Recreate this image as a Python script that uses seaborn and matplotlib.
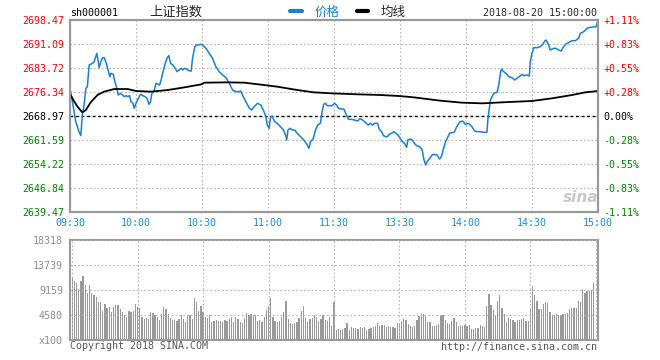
import numpy as np
import pandas as pd
import seaborn as sns
import matplotlib.pyplot as plt

prev_close = 2668.97
price_levels = [2639.47, 2646.84, 2654.22, 2661.59, 2668.97, 2676.34, 2683.72, 2691.09, 2698.47]
pct_labels = ["-1.11%", "-0.83%", "-0.55%", "-0.28%", "0.00%", "+0.28%", "+0.55%", "+0.83%", "+1.11%"]
time_ticks = [0, 30, 60, 90, 120, 150, 180, 210, 240]
time_labels = ["09:30", "10:00", "10:30", "11:00", "11:30", "13:30", "14:00", "14:30", "15:00"]
vol_levels = [0, 4580, 9159, 13739, 18318]
vol_labels = ["x100", "4580", "9159", "13739", "18318"]

# price trace, minutes after 09:30 (lunch break removed)
price_min_am = [0, 1.1, 2.6, 4.1, 4.9, 5.6, 6.4, 7.2, 7.9, 8.7, 10.2, 11.0, 12.2, 13.3, 14.0,
                14.8, 15.5, 16.3, 17.1, 18.1, 18.6, 19.7, 20.4, 21.3, 21.9, 22.9, 23.9, 24.7,
                25.6, 26.2, 27.1, 27.7, 28.6, 29.2, 30.0, 31.1, 32.0, 33.1, 34.1, 35.0, 35.9,
                36.6, 37.2, 38.1, 39.1, 40.7, 41.4, 42.3, 43.3, 44.2, 44.9, 45.7, 46.8, 47.5,
                48.7, 49.5, 50.6, 51.3, 52.1, 53.0, 53.9, 55.1, 55.7, 56.7, 57.4, 58.2, 59.7,
                60.3, 61.8, 63.3, 64.8, 66.3, 67.8, 69.4, 70.9, 72.4, 73.9, 75.4, 76.9, 77.6,
                78.4, 79.9, 81.4, 82.5, 83.7, 85.2, 86.7, 87.9, 89.0, 89.7, 90.5, 91.2, 92.0,
                93.0, 94.2, 95.7, 97.0, 98.0, 98.5, 99.1, 100.0, 101.0, 102.1, 103.3, 104.8,
                106.3, 107.8, 108.6, 109.3, 110.5, 111.6, 112.6, 113.8, 114.6, 115.3, 116.1,
                116.9, 119.1]
price_am = [2677.47, 2673.37, 2667.23, 2664.16, 2662.93, 2669.28, 2672.35, 2677.47, 2677.98,
            2684.64, 2685.15, 2685.66, 2688.22, 2683.82, 2685.66, 2686.89, 2686.89, 2685.66,
            2683.61, 2681.05, 2682.08, 2681.77, 2679.52, 2677.47, 2675.42, 2675.93, 2675.42,
            2674.91, 2675.22, 2674.91, 2675.22, 2673.37, 2672.86, 2671.33, 2672.86, 2674.40,
            2675.63, 2675.22, 2674.91, 2674.40, 2672.55, 2673.37, 2675.93, 2676.45, 2679.01,
            2678.49, 2680.03, 2682.59, 2685.15, 2686.89, 2687.50, 2685.15, 2684.64, 2683.92,
            2682.59, 2683.10, 2683.61, 2683.10, 2683.61, 2683.41, 2682.90, 2682.79, 2686.69,
            2690.27, 2690.78, 2690.78, 2690.99,
            2690.78, 2689.76, 2688.22, 2686.69, 2684.13, 2682.59, 2681.57, 2680.75, 2679.01,
            2676.96, 2676.45, 2676.45, 2676.65, 2675.42, 2673.37, 2671.53, 2670.81, 2671.84,
            2672.86, 2672.35, 2670.81, 2668.77, 2666.20, 2665.18, 2668.77, 2668.77, 2667.23,
            2666.72, 2665.69, 2664.67, 2663.13, 2661.60, 2664.67, 2665.18, 2664.67, 2664.67,
            2663.65, 2662.62, 2661.60, 2660.06, 2659.04, 2661.08, 2661.90, 2664.67, 2666.20,
            2666.72, 2670.30, 2672.55, 2672.86, 2672.14, 2672.14]
price_min_pm = [120.3, 121.1, 122.1, 123.3, 124.5, 125.6, 126.6, 127.8, 129.3, 130.8, 131.6,
                132.3, 133.5, 134.6, 135.6, 136.5, 137.6, 138.3, 139.8, 140.6, 141.6, 142.5,
                143.6, 144.3, 145.1, 146.1, 147.3, 148.1, 149.1, 150.0, 151.1, 152.1, 153.0,
                153.6, 154.5, 155.6, 156.6, 157.5, 159.0, 160.1, 160.8, 161.7, 162.3, 163.5,
                164.6, 165.6, 166.8, 168.0, 168.8, 169.8, 170.7, 171.6, 172.5, 173.6, 174.6,
                175.8, 177.0, 178.1,
                178.8, 179.7, 181.2, 182.7, 183.9, 185.0, 186.5, 188.0, 189.5, 190.0, 191.1,
                191.8, 192.6, 194.1, 194.9, 195.6, 196.1, 197.1, 198.2, 199.4, 200.9, 202.1,
                203.2, 204.2, 205.5, 206.2, 207.7, 208.8, 209.2, 210.0, 210.8, 212.3, 213.8,
                214.9, 215.8, 216.4, 217.6, 218.3, 219.8, 220.9, 222.1, 223.2, 224.4, 225.2,
                226.7, 228.2, 229.7, 231.2, 232.0, 233.5, 235.0, 236.5, 239.1, 240.0]
price_pm = [2672.86, 2672.35, 2671.33, 2671.12, 2671.12, 2669.28, 2667.95, 2667.95, 2667.74,
            2667.43, 2668.05, 2668.05, 2667.43, 2666.72, 2666.20, 2666.72, 2666.20, 2666.72,
            2666.72, 2664.87, 2664.16, 2662.93, 2662.62, 2662.62, 2663.34, 2663.65, 2664.16,
            2663.65, 2663.13, 2662.11, 2661.08, 2660.57, 2659.34, 2661.60, 2661.90, 2661.60,
            2660.57, 2659.86, 2659.55, 2658.53, 2655.76, 2653.92, 2654.94, 2655.97, 2656.99,
            2657.19, 2656.99, 2655.76, 2656.48, 2659.04, 2661.08, 2662.31, 2663.65, 2663.85,
            2663.95, 2665.69, 2667.02, 2667.43,
            2667.23, 2666.41, 2666.72, 2665.69, 2664.36, 2664.16, 2664.16, 2663.95, 2663.95,
            2668.25, 2673.89, 2674.91, 2675.93, 2676.24, 2678.49, 2682.08, 2683.41, 2682.59,
            2682.08, 2681.05, 2680.75, 2680.03, 2680.54, 2681.05, 2681.77, 2681.36, 2681.57,
            2681.26, 2685.66, 2688.22, 2689.96, 2689.96, 2690.27, 2690.99, 2692.01, 2692.32,
            2690.78, 2689.25, 2689.76, 2689.76, 2689.25, 2688.94, 2690.27, 2690.99, 2691.60,
            2692.11, 2692.11, 2692.83, 2694.37, 2694.88, 2695.90, 2696.21, 2696.41, 2698.40]

avg_min = [0, 1.8, 3.4, 5.6, 7.2, 9.4, 12.5, 15.5, 20.1, 26.2, 30.0, 36.9, 44.5, 52.1, 59.7,
           61.1, 71.6, 79.2, 88.2, 94.2, 103.3, 110.8, 119.1, 130.8, 141.3, 149.6, 156.3,
           162.3, 168.3, 178.1, 187.3, 196.4, 210.0, 219.1, 228.2, 234.2, 240]
avg_val = [2675.73, 2673.58, 2671.84, 2670.10, 2670.81, 2673.17, 2675.42, 2676.45, 2677.26,
           2677.26, 2676.65, 2676.45, 2676.96, 2677.78, 2678.70, 2679.21, 2679.31, 2679.21,
           2678.49, 2677.98, 2676.96, 2676.24, 2675.93, 2675.63, 2675.42, 2675.11, 2674.70,
           2674.19, 2673.68, 2673.07, 2672.86, 2673.17, 2673.58, 2674.40, 2675.42, 2676.24,
           2676.65]

# volume per minute (x100)
vol_am = [11600, 10810, 10500, 9340, 10810, 11720, 10080, 8550, 10080,
          8670, 8240, 7940, 7020, 6900, 5370, 6590, 5800, 6110, 5190, 6110, 6410, 6410, 5680,
          5070, 4580, 4270,
          5310, 5070, 5310, 6590, 6110, 5800, 4270, 3850, 3970, 3850, 5070, 4880, 4580, 4270,
          3660, 4700, 6110, 5680,
          4700, 3970, 3660, 3660, 3480, 3790, 4580, 3790, 3360, 4580, 4580, 3850, 7750, 7020,
          5310, 6290, 5070, 4270, 4090, 4580,
          3360, 3540, 3660, 3540,
          3540, 3360, 3660, 3480, 3850, 4270, 3360,
          4270, 3850, 3240, 3050, 4090, 4880, 4580, 4700, 4580,
          4580, 3480, 3660, 3360, 4270, 5500, 6290, 7750, 4270, 3480,
          3360, 3480, 4270, 5190, 7140, 3850, 3050, 2930,
          3050, 3240, 3970, 5310, 6290, 4090, 3240, 3850, 4090, 4580, 4270,
          3480, 3850, 4580, 3660, 3480, 4270, 2630]
vol_pm = [7020, 1830, 1950, 1830, 2010, 2140, 3050, 1830, 2320, 2200,
          2140, 2010, 2320, 2200, 2320, 1770, 2080,
          2200, 2380, 2630, 3050, 2630, 2690, 2690, 2380, 2560, 2320,
          2440, 2260, 3050, 3180, 3480, 3850, 3660, 2870, 2500, 2320,
          2630, 3600, 4460, 4880, 4760, 4580, 3240, 3240, 2630, 2630,
          2690, 2870, 4520, 4520, 3720, 3050, 2870, 3480, 4090, 3300,
          2560, 2750, 2630, 2750, 2560, 2690, 2080, 2080, 2140, 2140,
          2750, 2630, 2440, 6170, 8430, 6410, 5500, 4580, 7140, 8180,
          5800, 4820, 3360, 4090, 3850, 3600, 3300, 3660, 3660, 3790,
          4030, 3480, 3480, 5680, 9890, 8240, 7140, 5680, 5680, 6530,
          6900, 6780, 5190, 4580, 4580, 4760, 4640, 4580, 4700, 4820,
          4950, 5680, 5800, 5920, 5920, 7140, 7020, 9340, 8550, 8980,
          9040, 9160, 10500, 120]

blue = "#1a7fd4"
tick_blue = "#1b88d8"
red = "#ff0000"
green = "#008000"
frame = "#999999"
grid_c = "#b4b4b4"

sns.set_style("white")
plt.rcParams["font.family"] = ["DejaVu Sans Mono", "Noto Sans CJK SC"]

price = pd.DataFrame({"minute": price_min_am + price_min_pm, "price": price_am + price_pm})
avg = pd.DataFrame({"minute": avg_min, "price": avg_val})
vol = pd.DataFrame({"minute": list(range(len(vol_am))) + [120 + i for i in range(len(vol_pm))],
                    "volume": vol_am + vol_pm})

fig = plt.figure(figsize=(6.6, 3.6), dpi=100)
ax = fig.add_axes([70 / 660, 1 - 212 / 360, 528 / 660, 192 / 360])
axv = fig.add_axes([70 / 660, 1 - 340 / 360, 528 / 660, 100 / 360])

# price panel
sns.lineplot(data=price, x="minute", y="price", ax=ax, color=blue, lw=1.1, label="价格")
sns.lineplot(data=avg, x="minute", y="price", ax=ax, color="black", lw=1.3, label="均线")
ax.axhline(prev_close, color="black", ls=(0, (2, 2)), lw=1, zorder=1)
ax.set_xlim(0, 240)
ax.set_ylim(price_levels[0], price_levels[-1])
ax.set_xticks(time_ticks)
ax.set_xticklabels(time_labels)
ax.set_yticks(price_levels)
ax.set_yticklabels([f"{v:.2f}" for v in price_levels])
ax.set_xlabel("")
ax.set_ylabel("")
ax.set_axisbelow(True)
ax.grid(True, color=grid_c, ls=(0, (1.5, 2)), lw=0.8)
ax.tick_params(length=0, pad=4, labelsize=7.2)
for lab in ax.get_xticklabels():
    lab.set_color(tick_blue)


def level_color(v):
    if v > prev_close + 0.01:
        return red
    if v < prev_close - 0.01:
        return green
    return "black"


for lab, v in zip(ax.get_yticklabels(), price_levels):
    lab.set_color(level_color(v))

axr = ax.twinx()
axr.set_ylim(price_levels[0], price_levels[-1])
axr.set_yticks(price_levels)
axr.set_yticklabels(pct_labels)
axr.tick_params(length=0, pad=4, labelsize=7.2)
for lab, v in zip(axr.get_yticklabels(), price_levels):
    lab.set_color(level_color(v))

for a in (ax, axr, axv):
    for sp in a.spines.values():
        sp.set_color(frame)
        sp.set_linewidth(1.5)

leg = ax.legend(loc="center", bbox_to_anchor=(348 / 660, 1 - 12 / 360),
                bbox_transform=fig.transFigure, ncol=2, frameon=False,
                handlelength=0.9, handletextpad=1.0, columnspacing=1.4,
                prop={"family": "Noto Sans CJK SC", "size": 9})
for line in leg.get_lines():
    line.set_linewidth(3)
leg.get_texts()[0].set_color(blue)

# volume panel
sns.barplot(data=vol, x="minute", y="volume", ax=axv, native_scale=True,
            color="#999999", width=0.6, saturation=1, linewidth=0, errorbar=None)
axv.set_xlim(-1, 241)
axv.set_ylim(0, vol_levels[-1])
axv.set_xticks(time_ticks)
axv.set_xticklabels([])
axv.set_yticks(vol_levels)
axv.set_yticklabels(vol_labels)
axv.set_xlabel("")
axv.set_ylabel("")
axv.set_axisbelow(False)
axv.grid(True, color=grid_c, ls=(0, (1.5, 2)), lw=0.8)
axv.tick_params(length=0, pad=5, labelsize=7.2, labelcolor="#8c8c8c")

# header and footer texts
fig.text(70 / 660, 1 - 13 / 360, "sh000001", fontsize=7.2, va="center", color="black")
fig.text(176 / 660, 1 - 12 / 360, "上证指数", fontsize=9.5, ha="center", va="center",
         family=["Noto Sans CJK SC"])
fig.text(597 / 660, 1 - 13 / 360, "2018-08-20 15:00:00", fontsize=7.2, ha="right", va="center")
fig.text(70 / 660, 1 - 346 / 360, "Copyright 2018 SINA.COM", fontsize=7.2, va="center",
         color="#555555")
fig.text(597 / 660, 1 - 347 / 360, "http://finance.sina.com.cn", fontsize=7.2, ha="right",
         va="center", color="#555555")
fig.text(581 / 660, 1 - 197 / 360, "sina", fontsize=11, ha="center", va="center",
         color="#c8c8c8", style="italic", weight="bold", family=["DejaVu Sans"])

fig.savefig("out.png", dpi=100)
